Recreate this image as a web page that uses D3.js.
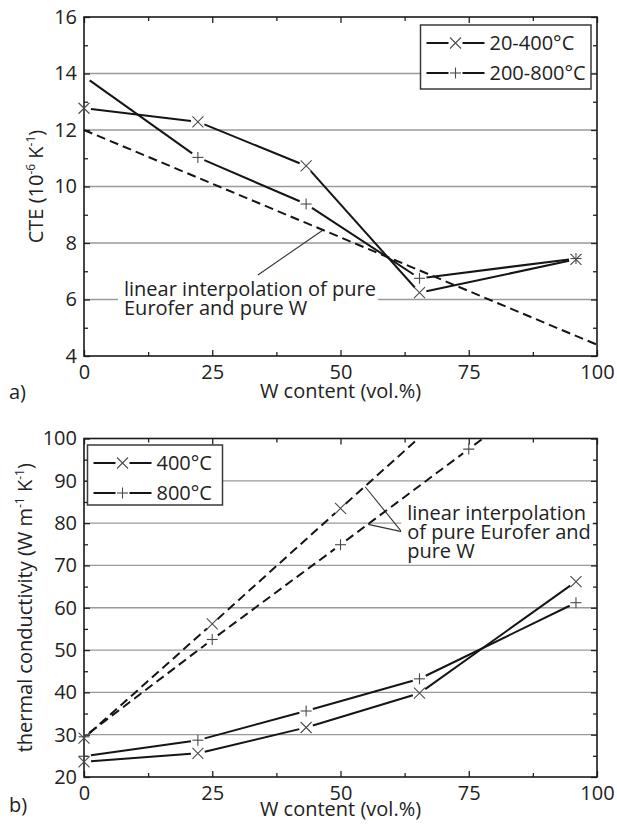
<!DOCTYPE html>
<html lang="en">
<head>
<meta charset="UTF-8">
<title>CTE and thermal conductivity vs W content</title>
<style>
  body { margin: 0; background: #fff; }
  text { font-family: "Open Sans", sans-serif; fill: #222; }
</style>
</head>
<body>
<svg id="svg" width="617" height="827"></svg>

<script src="https://d3js.org/d3.v7.min.js"></script>
<script>
// W content (vol.%) of the measured samples
const wContent = [0, 22.2, 43.3, 65.4, 95.9]

// a) CTE (10^-6 K^-1)
const cte20_400 = [12.77, 12.29, 10.73, 6.24, 7.42]
const cte200_800 = [13.9, 11.03, 9.38, 6.75, 7.45]
const cteLinW = [0, 100]
const cteLin = [12.0, 4.4]

// b) thermal conductivity (W m^-1 K^-1)
const k400 = [23.6, 25.6, 31.7, 39.8, 66.2]
const k800 = [24.9, 28.7, 35.6, 43.2, 61.2]
const kLinW = [0, 25, 50, 75, 100]
const kLin400 = [29.2, 56.2, 83.5, 110.7, 138]
const kLin800 = [29.5, 52.5, 74.9, 97.5, 120]

// ticks
const xTicks = [0, 25, 50, 75, 100]
const xMinor = [12.5, 37.5, 62.5, 87.5]
const cteTicks = [4, 6, 8, 10, 12, 14, 16]
const cteMinor = [5, 7, 9, 11, 13, 15]
const cteGrid = [6, 8, 10, 12, 14]
const kTicks = [20, 30, 40, 50, 60, 70, 80, 90, 100]
const kMinor = [25, 35, 45, 55, 65, 75, 85, 95]
const kGrid = [30, 40, 50, 60, 70, 80, 90]

// annotation anchors (data coords)
const cteNote = { text: ['linear interpolation of pure', 'Eurofer and pure W'], at: [7.8, 6.12], tail: [33.9, 6.87], tips: [[46.6, 8.46]] }
const kNote = { text: ['linear interpolation', 'of pure Eurofer and', 'pure W'], at: [63.0, 80.7], tail: [61.9, 78.0], tips: [[54.8, 88.6], [55.4, 79.7]] }

const svg = d3.select('#svg')
const left = 84, right = 597
const lineColor = '#151515', markColor = '#4a4a4a', gridColor = '#9a9a9a'
const gap = 7
const lineH = 19

const x = d3.scaleLinear().domain([0, 100]).range([left, right])

function marker(g, type, px, py) {
    const s = 5.5
    if (type === 'x') {
        g.append('line').attr('x1', px - s).attr('y1', py - s).attr('x2', px + s).attr('y2', py + s)
        g.append('line').attr('x1', px - s).attr('y1', py + s).attr('x2', px + s).attr('y2', py - s)
    } else {
        g.append('line').attr('x1', px - s).attr('y1', py).attr('x2', px + s).attr('y2', py)
        g.append('line').attr('x1', px).attr('y1', py - s).attr('x2', px).attr('y2', py + s)
    }
}

// polyline with a gap round every point, like the original plot
function brokenLine(g, pts, g0, dash) {
    for (let i = 0; i < pts.length - 1; i++) {
        const [ax, ay] = pts[i], [bx, by] = pts[i + 1]
        const len = Math.hypot(bx - ax, by - ay)
        if (len < 2 * g0) continue
        const ux = (bx - ax) / len, uy = (by - ay) / len
        g.append('line')
            .attr('x1', ax + ux * g0).attr('y1', ay + uy * g0)
            .attr('x2', bx - ux * g0).attr('y2', by - uy * g0)
            .attr('stroke', lineColor).attr('stroke-width', 2)
            .attr('stroke-dasharray', dash || null)
    }
}

function series(g, xs, ys, y, type, opts = {}) {
    const pts = xs.map((d, i) => [x(d), y(ys[i])])
    brokenLine(g, pts, opts.gap === undefined ? gap : opts.gap, opts.dash)
    if (type) {
        const mg = g.append('g').attr('stroke', markColor).attr('stroke-width', 1.1)
        pts.forEach((p, i) => {
            if (opts.hide && opts.hide.includes(i)) return
            marker(mg, type, p[0], p[1])
        })
    }
}

function panel(cfg) {
    const { top, bottom, yDomain, yTicks, yMinor, yGrid } = cfg
    const y = d3.scaleLinear().domain(yDomain).range([bottom, top])
    const g = svg.append('g')

    // grid
    g.append('g').selectAll('line').data(yGrid).join('line')
        .attr('x1', left).attr('x2', right)
        .attr('y1', d => y(d)).attr('y2', d => y(d))
        .attr('stroke', gridColor).attr('stroke-width', 1.3)

    // ticks on all four sides, pointing inward
    const axes = [
        [d3.axisBottom(x), `translate(0,${bottom})`, xTicks, xMinor, 9],
        [d3.axisTop(x), `translate(0,${top})`, xTicks, xMinor, 0],
        [d3.axisLeft(y), `translate(${left},0)`, yTicks, yMinor, 7],
        [d3.axisRight(y), `translate(${right},0)`, yTicks, yMinor, 0]
    ]
    axes.forEach(([ax, tr, major, minor, pad]) => {
        const a = g.append('g').attr('transform', tr)
            .call(ax.tickValues(major).tickSizeInner(-6).tickSizeOuter(0).tickPadding(pad)
                .tickFormat(pad ? d3.format('d') : ''))
        const a2 = g.append('g').attr('transform', tr)
            .call(ax.tickValues(minor).tickSizeInner(-4).tickFormat(''))
        ;[a, a2].forEach(s => {
            s.select('.domain').remove()
            s.selectAll('line').attr('stroke', '#222').attr('stroke-width', 1.3)
        })
        a.selectAll('text').attr('font-family', '"Open Sans", sans-serif').attr('font-size', 20).attr('fill', '#222')
    })

    // frame
    g.append('rect').attr('x', left).attr('y', top)
        .attr('width', right - left).attr('height', bottom - top)
        .attr('fill', 'none').attr('stroke', '#1a1a1a').attr('stroke-width', 1.6)

    // axis titles
    g.append('text').attr('x', (left + right) / 2).attr('y', cfg.xTitleY)
        .attr('text-anchor', 'middle').attr('font-size', 20).text('W content (vol.%)')
    g.append('text').attr('x', 9).attr('y', cfg.tagY).attr('font-size', 20).text(cfg.tag)

    const yt = g.append('text').attr('text-anchor', 'middle').attr('font-size', 20)
        .attr('transform', `translate(${cfg.yTitleX},${(top + bottom) / 2}) rotate(-90)`)
    let raised = false
    cfg.yTitle.forEach(([t, sup]) => {
        const ts = yt.append('tspan').text(t)
        if (sup) {
            ts.attr('font-size', 12).attr('dy', -8)
            raised = true
        } else if (raised) {
            ts.attr('dy', 8)
            raised = false
        }
    })

    return { g, y }
}

function note(g, y, n) {
    const ng = g.append('g')
    const leader = t => ng.append('line')
        .attr('x1', x(n.tail[0])).attr('y1', y(n.tail[1]))
        .attr('x2', x(t[0])).attr('y2', y(t[1]))
        .attr('stroke', '#333').attr('stroke-width', 1.1)
    n.tips.forEach(leader)
    const bg = ng.append('rect').attr('fill', '#fff')
    const t = ng.append('text').attr('font-size', 20).attr('fill', '#333')
    const x0 = x(n.at[0]), y0 = y(n.at[1])
    n.text.forEach((s, i) => {
        t.append('tspan').attr('x', x0).attr('y', y0 + i * lineH).text(s)
    })
    const b = t.node().getBBox()
    // white box behind the text: from cap height of the first line to just under the last baseline
    bg.attr('x', b.x - 6).attr('y', y0 - 15)
        .attr('width', b.width + 8).attr('height', (n.text.length - 1) * lineH + 19)
}

function legend(g, x0, y0, w, h, items) {
    const lg = g.append('g')
    lg.append('rect').attr('x', x0).attr('y', y0).attr('width', w).attr('height', h)
        .attr('fill', '#fff').attr('stroke', '#3a3a3a').attr('stroke-width', 1.5)
    items.forEach((it, i) => {
        const cy = y0 + 18 + i * 30
        const lx1 = x0 + 6, lx2 = x0 + 64, mx = (lx1 + lx2) / 2
        brokenLine(lg, [[lx1, cy], [mx - 7, cy]], 0, null)
        brokenLine(lg, [[mx + 7, cy], [lx2, cy]], 0, null)
        const mg = lg.append('g').attr('stroke', markColor).attr('stroke-width', 1.1)
        marker(mg, it.type, mx, cy)
        lg.append('text').attr('x', lx2 + 5).attr('y', cy + 7).attr('font-size', 20).text(it.label)
    })
}

// ---------- a) CTE ----------
const a = panel({
    top: 17, bottom: 356, yDomain: [4, 16],
    yTicks: cteTicks, yMinor: cteMinor, yGrid: cteGrid,
    xTitleY: 398, tag: 'a)', tagY: 399, yTitleX: 43,
    yTitle: [['CTE (10'], ['-6', true], [' K'], ['-1', true], [')']]
})
note(a.g, a.y, cteNote)
series(a.g, cteLinW, cteLin, a.y, null, { gap: 0, dash: '9,5' })
series(a.g, wContent, cte20_400, a.y, 'x')
series(a.g, wContent, cte200_800, a.y, '+', { hide: [0] })
legend(a.g, 420.5, 25, 170.5, 64, [
    { type: 'x', label: '20-400\u00b0C' },
    { type: '+', label: '200-800\u00b0C' }
])

// ---------- b) thermal conductivity ----------
const b = panel({
    top: 438.5, bottom: 777, yDomain: [20, 100],
    yTicks: kTicks, yMinor: kMinor, yGrid: kGrid,
    xTitleY: 816, tag: 'b)', tagY: 812, yTitleX: 32,
    yTitle: [['thermal conductivity (W m'], ['-1', true], [' K'], ['-1', true], [')']]
})
note(b.g, b.y, kNote)
svg.append('clipPath').attr('id', 'clipB').append('rect')
    .attr('x', left - 20).attr('y', 438.5).attr('width', right - left + 40).attr('height', 777 - 438.5)
const dashG = b.g.append('g').attr('clip-path', 'url(#clipB)')
series(dashG, kLinW, kLin400, b.y, 'x', { dash: '9,5' })
series(dashG, kLinW, kLin800, b.y, '+', { dash: '9,5' })
series(b.g, wContent, k400, b.y, 'x')
series(b.g, wContent, k800, b.y, '+')
legend(b.g, 87.5, 445, 135, 60, [
    { type: 'x', label: '400\u00b0C' },
    { type: '+', label: '800\u00b0C' }
])
</script>
</body>
</html>
